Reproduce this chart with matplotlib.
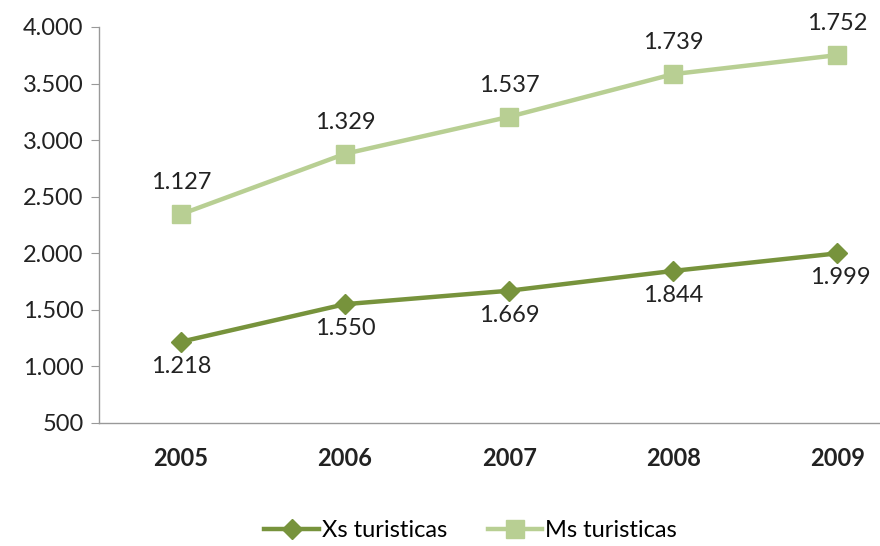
import matplotlib
matplotlib.use('Agg')
import matplotlib.pyplot as plt

plt.rcParams['font.family'] = ['Lato', 'DejaVu Sans']

years = ["2005", "2006", "2007", "2008", "2009"]
xs_turisticas = [1218, 1550, 1669, 1844, 1999]
ms_turisticas = [1127, 1329, 1537, 1739, 1752]

# apilado: la serie Ms se dibuja encima de Xs
ms_apilado = [a + b for a, b in zip(xs_turisticas, ms_turisticas)]

verde_oscuro = "#77933C"
verde_claro = "#B8CF93"
texto = "#222222"
tam = 17


def fmt(v):
    return f"{v:,}".replace(",", ".")


fig = plt.figure(figsize=(8.8, 5.46), dpi=100)
ax = fig.add_axes([0.1125, 0.2253, 0.932, 0.7253])

x = list(range(len(years)))
ax.plot(x, xs_turisticas, color=verde_oscuro, lw=3.2, marker="D", ms=10,
        label="Xs turisticas")
ax.plot(x, ms_apilado, color=verde_claro, lw=3.2, marker="s", ms=13,
        label="Ms turisticas")

for i, v in enumerate(xs_turisticas):
    ax.annotate(fmt(v), (i, v), xytext=(2 if i == 4 else 0, -10), textcoords="offset points",
                ha="center", va="top", fontsize=tam, color=texto)
for i, v in enumerate(ms_turisticas):
    ax.annotate(fmt(v), (i, ms_apilado[i]), xytext=(0, 15), textcoords="offset points",
                ha="center", va="bottom", fontsize=tam, color=texto)

ax.set_xlim(-0.5, 4.5)
ax.set_ylim(500, 4000)
ax.set_yticks(range(500, 4001, 500))
ax.set_yticklabels([fmt(v) for v in range(500, 4001, 500)], fontsize=tam, color=texto)
ax.set_xticks(x)
ax.set_xticklabels(years, fontsize=tam, fontweight="bold", color=texto)
ax.tick_params(axis="x", length=0, pad=17)
ax.tick_params(axis="y", length=6, color="#999999", pad=5)

for s in ["top", "right"]:
    ax.spines[s].set_visible(False)
for s in ["left", "bottom"]:
    ax.spines[s].set_color("#999999")
    ax.spines[s].set_linewidth(1)

fig.legend(loc="center", bbox_to_anchor=(0.535, 0.028), ncol=2, frameon=False,
           fontsize=tam, handlelength=2.3, columnspacing=1.7, handletextpad=0.15)

fig.savefig("out.png", dpi=100)
plt.close(fig)
